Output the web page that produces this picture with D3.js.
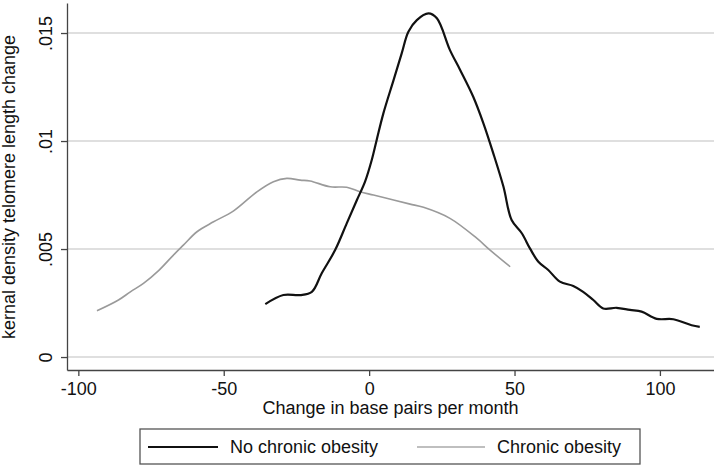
<!DOCTYPE html>
<html>
<head>
<meta charset="utf-8">
<script src="https://cdn.jsdelivr.net/npm/d3@7"></script>
<style>
  html, body { margin: 0; padding: 0; background: #fff; }
  svg { display: block; font-family: "Liberation Sans", Arial, Helvetica, sans-serif; }
</style>
</head>
<body>
<svg id="chart" width="714" height="466"></svg>
<script>
// ---- data ----
const noObesityX = [-35.7, -29.5, -23.7, -19.7, -16.3, -11.7, -7.7, -4.2, -1.4, 0.9, 2.6, 4.9, 8.4, 11.2, 13.5, 16.4, 20.4, 23.3, 27.8, 31.3, 35.8, 39.3, 42.7, 46.2, 49.0, 52.5, 55.3, 58.2, 61.6, 65.6, 70.2, 73.6, 77.1, 80.5, 85.1, 89.7, 93.7, 98.9, 104.6, 110.9, 113.7];
const noObesityY = [0.00245, 0.00287, 0.00287, 0.00302, 0.00388, 0.00495, 0.00619, 0.00727, 0.00812, 0.00912, 0.01005, 0.01128, 0.01282, 0.01406, 0.01506, 0.01560, 0.01591, 0.01568, 0.01421, 0.01329, 0.01205, 0.01082, 0.00943, 0.00788, 0.00634, 0.00573, 0.00503, 0.00441, 0.00403, 0.00349, 0.00329, 0.00302, 0.00264, 0.00225, 0.00228, 0.00218, 0.00210, 0.00177, 0.00175, 0.00147, 0.00140];
const obesityX = [-93.6, -86.2, -82.1, -77.6, -72.4, -67.3, -63.8, -59.2, -53.5, -46.6, -38.6, -32.9, -28.3, -23.7, -20.3, -13.4, -7.7, -3.1, 1.5, 8.4, 14.1, 18.7, 27.8, 37.0, 41.6, 48.5];
const obesityY = [0.00214, 0.00264, 0.00302, 0.00341, 0.00400, 0.00472, 0.00519, 0.00580, 0.00626, 0.00677, 0.00765, 0.00812, 0.00827, 0.00819, 0.00815, 0.00788, 0.00786, 0.00765, 0.00750, 0.00727, 0.00708, 0.00693, 0.00642, 0.00550, 0.00495, 0.00418];
const xTicks = [-100, -50, 0, 50, 100];
const xTickLabels = ["-100", "-50", "0", "50", "100"];
const yTicks = [0, 0.005, 0.01, 0.015];
const yTickLabels = ["0", ".005", ".01", ".015"];
const seriesNames = ["No chronic obesity", "Chronic obesity"];
const xTitle = "Change in base pairs per month";
const yTitle = "kernal density telomere length change";

// ---- layout ----
const svg = d3.select("#chart");
const FS = 18;
const plotL = 67, plotR = 714, plotT = 3, plotB = 370;

const x = d3.scaleLinear().domain([-103.9, 118.6]).range([plotL, plotR]);
const y = d3.scaleLinear().domain([-0.0006, 0.01639]).range([plotB, plotT]);

// gridlines
svg.append("g").selectAll("line").data(yTicks).join("line")
  .attr("x1", plotL).attr("x2", plotR)
  .attr("y1", d => y(d)).attr("y2", d => y(d))
  .attr("stroke", "#d4d4d4").attr("stroke-width", 1.5);

// y axis
const yAxis = svg.append("g").attr("transform", `translate(${plotL},0)`)
  .call(d3.axisLeft(y).tickValues(yTicks).tickSize(6).tickSizeOuter(0)
    .tickFormat((d, i) => yTickLabels[i]));
yAxis.select(".domain").attr("stroke", "#444").attr("stroke-width", 1.3);
yAxis.selectAll(".tick line").attr("stroke", "#444").attr("stroke-width", 1.3);
yAxis.selectAll(".tick text")
  .attr("transform", "rotate(-90)")
  .attr("x", 0).attr("y", -15).attr("dy", 0)
  .attr("text-anchor", "middle")
  .attr("font-size", FS).attr("fill", "#111")
  .attr("font-family", "'Liberation Sans', Arial, sans-serif");

// x axis
const xAxis = svg.append("g").attr("transform", `translate(0,${plotB})`)
  .call(d3.axisBottom(x).tickValues(xTicks).tickSize(6).tickSizeOuter(0)
    .tickFormat((d, i) => xTickLabels[i]));
xAxis.select(".domain").attr("stroke", "#444").attr("stroke-width", 1.3);
xAxis.selectAll(".tick line").attr("stroke", "#444").attr("stroke-width", 1.3);
xAxis.selectAll(".tick text")
  .attr("y", 25).attr("dy", 0)
  .attr("font-size", FS).attr("fill", "#111")
  .attr("font-family", "'Liberation Sans', Arial, sans-serif");

// axis titles
svg.append("text")
  .attr("x", 390.5).attr("y", 414)
  .attr("text-anchor", "middle").attr("font-size", FS).attr("fill", "#111")
  .text(xTitle);
svg.append("text")
  .attr("transform", "translate(15,187) rotate(-90)")
  .attr("text-anchor", "middle").attr("font-size", FS).attr("fill", "#111")
  .text(yTitle);

// curves
const line = d3.line().x(d => x(d[0])).y(d => y(d[1])).curve(d3.curveCatmullRom.alpha(0.5));
const noOb = noObesityX.map((v, i) => [v, noObesityY[i]]);
const ob = obesityX.map((v, i) => [v, obesityY[i]]);
svg.append("path").datum(ob).attr("d", line)
  .attr("fill", "none").attr("stroke", "#9a9a9a").attr("stroke-width", 1.6);
svg.append("path").datum(noOb).attr("d", line)
  .attr("fill", "none").attr("stroke", "#111").attr("stroke-width", 2.2);

// legend
const lg = svg.append("g");
lg.append("rect").attr("x", 140).attr("y", 429).attr("width", 500).attr("height", 35)
  .attr("fill", "#fff").attr("stroke", "#555").attr("stroke-width", 1.3);
const legendItems = [
  {name: seriesNames[0], color: "#111", w: 2.2, x0: 148, x1: 218, tx: 230},
  {name: seriesNames[1], color: "#aaa", w: 1.6, x0: 417, x1: 485, tx: 497}
];
legendItems.forEach(it => {
  lg.append("line").attr("x1", it.x0).attr("x2", it.x1).attr("y1", 447).attr("y2", 447)
    .attr("stroke", it.color).attr("stroke-width", it.w);
  lg.append("text").attr("x", it.tx).attr("y", 453).attr("font-size", FS).attr("fill", "#111")
    .text(it.name);
});
</script>
</body>
</html>
